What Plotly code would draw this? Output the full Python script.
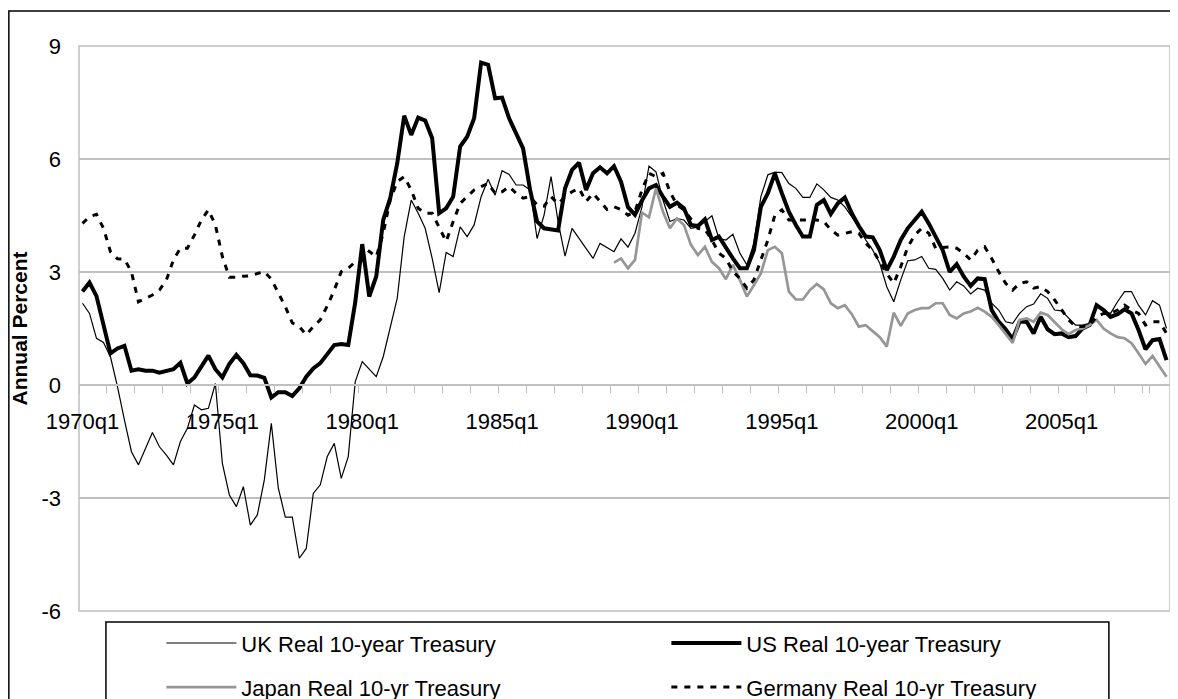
"""Real 10-year government bond yields: UK, US, Japan and Germany, 1970q1-2008q4."""

import plotly.graph_objects as go

# quarterly categories, 1970q1 .. 2008q4
quarters = [f"{year}q{q}" for year in range(1970, 2009) for q in range(1, 5)]
year_labels = ["1970q1", "1975q1", "1980q1", "1985q1", "1990q1", "1995q1", "2000q1", "2005q1"]

uk_real = [
    2.17, 1.9, 1.24, 1.13, 0.75, -0.04, -0.93, -1.77, -2.12, -1.71,
    -1.26, -1.64, -1.86, -2.12, -1.5, -1.15, -0.53, -0.66, -0.62, 0.04,
    -2.08, -2.92, -3.23, -2.7, -3.72, -3.45, -2.52, -1.02, -2.74, -3.51,
    -3.51, -4.6, -4.34, -2.88, -2.65, -1.9, -1.55, -2.48, -1.9, 0.09,
    0.62, 0.42, 0.22, 0.75, 1.5, 2.3, 3.94, 4.91, 4.56, 4.16,
    3.36, 2.45, 3.52, 3.41, 4.2, 3.94, 4.25, 5.0, 5.46, 5.04,
    5.69, 5.59, 5.31, 5.31, 5.18, 3.89, 4.51, 5.53, 4.34, 3.42,
    4.16, 3.89, 3.63, 3.36, 3.76, 3.65, 3.54, 3.88, 3.66, 4.03,
    4.73, 5.81, 5.66, 4.91, 4.34, 4.42, 4.38, 4.16, 4.19, 4.34,
    4.49, 3.89, 3.85, 4.0, 3.5, 3.19, 3.76, 5.0, 5.58, 5.65,
    5.64, 5.35, 5.22, 4.98, 4.98, 5.34, 5.18, 4.98, 4.91, 4.73,
    4.47, 4.2, 3.85, 3.58, 3.23, 2.61, 2.21, 2.79, 3.3, 3.32,
    3.41, 3.1, 3.07, 2.83, 2.52, 2.74, 2.63, 2.42, 2.57, 2.52,
    2.17, 1.99, 1.68, 1.64, 1.9, 2.08, 2.15, 2.42, 2.3, 1.99,
    1.97, 1.77, 1.59, 1.59, 1.64, 2.12, 1.95, 1.9, 2.21, 2.48,
    2.48, 2.12, 1.86, 2.24, 2.12, 1.5,
]

us_real = [
    2.48, 2.72, 2.36, 1.64, 0.84, 0.97, 1.04, 0.38, 0.42, 0.38,
    0.38, 0.33, 0.37, 0.42, 0.59, 0.04, 0.2, 0.49, 0.78, 0.42,
    0.2, 0.56, 0.8, 0.58, 0.26, 0.25, 0.19, -0.33, -0.19, -0.19,
    -0.29, -0.09, 0.22, 0.44, 0.58, 0.82, 1.06, 1.09, 1.06, 2.2,
    3.74, 2.35, 2.88, 4.38, 4.96, 5.88, 7.15, 6.64, 7.1, 7.02,
    6.55, 4.56, 4.69, 5.0, 6.33, 6.59, 7.08, 8.56, 8.5, 7.61,
    7.63, 7.08, 6.68, 6.28, 5.18, 4.34, 4.16, 4.14, 4.1, 5.22,
    5.71, 5.9, 5.18, 5.62, 5.78, 5.62, 5.81, 5.4, 4.72, 4.52,
    4.9, 5.22, 5.31, 5.0, 4.73, 4.84, 4.69, 4.25, 4.22, 4.4,
    3.85, 3.94, 3.63, 3.36, 3.1, 3.1, 3.58, 4.73, 5.09, 5.62,
    5.09, 4.6, 4.25, 3.94, 3.94, 4.78, 4.91, 4.54, 4.82, 4.98,
    4.56, 4.22, 3.94, 3.92, 3.58, 3.05, 3.41, 3.85, 4.16, 4.38,
    4.6, 4.29, 3.94, 3.58, 3.0, 3.21, 2.88, 2.63, 2.83, 2.81,
    1.99, 1.68, 1.48, 1.22, 1.68, 1.68, 1.37, 1.81, 1.48, 1.35,
    1.37, 1.27, 1.3, 1.5, 1.59, 2.12, 1.99, 1.81, 1.88, 2.01,
    1.9, 1.46, 0.95, 1.19, 1.22, 0.66,
]

germany_real = [
    4.29, 4.47, 4.53, 4.16, 3.54, 3.35, 3.34, 3.0, 2.21, 2.3,
    2.39, 2.52, 2.79, 3.32, 3.63, 3.63, 3.98, 4.38, 4.65, 4.25,
    3.41, 2.86, 2.86, 2.89, 2.9, 2.96, 3.01, 2.81, 2.43, 2.08,
    1.65, 1.55, 1.33, 1.55, 1.73, 2.1, 2.52, 3.01, 3.1, 3.27,
    3.3, 3.55, 3.4, 4.03, 4.91, 5.4, 5.53, 5.18, 4.69, 4.56,
    4.56, 4.2, 3.81, 4.34, 4.82, 5.0, 5.18, 5.27, 5.35, 5.09,
    5.13, 5.27, 5.09, 4.96, 5.0, 4.78, 4.75, 5.0, 4.81, 5.0,
    5.13, 5.22, 4.87, 5.09, 4.87, 4.66, 4.73, 4.66, 4.51, 4.6,
    5.18, 5.62, 5.53, 5.62, 5.13, 4.78, 4.65, 4.42, 4.16, 4.13,
    3.85, 3.5, 3.36, 3.01, 2.83, 2.57, 2.79, 3.32, 3.85, 4.51,
    4.65, 4.38, 4.38, 4.38, 4.4, 4.38, 4.34, 4.12, 3.98, 4.03,
    4.07, 4.03, 3.76, 3.58, 3.27, 2.96, 2.7, 3.14, 3.66, 3.98,
    4.16, 4.03, 3.63, 3.65, 3.67, 3.63, 3.5, 3.32, 3.58, 3.67,
    3.36, 3.01, 2.7, 2.52, 2.7, 2.74, 2.57, 2.61, 2.48, 2.26,
    1.99, 1.73, 1.55, 1.55, 1.59, 1.81, 1.9, 1.9, 1.99, 2.12,
    1.99, 1.9, 1.59, 1.68, 1.68, 1.37,
]

# Japan series starts in 1989q1
japan_start = "1989q1"
japan_real = [
    3.25, 3.36, 3.1, 3.32,
    4.58, 4.45, 5.22, 4.6, 4.16, 4.42, 4.25, 3.72, 3.45, 3.67,
    3.27, 3.1, 2.81, 3.19, 2.79, 2.35, 2.65, 2.96, 3.58, 3.67,
    3.5, 2.48, 2.27, 2.27, 2.52, 2.68, 2.54, 2.17, 2.04, 2.12,
    1.88, 1.55, 1.59, 1.42, 1.27, 1.02, 1.92, 1.57, 1.9, 1.99,
    2.04, 2.04, 2.17, 2.17, 1.86, 1.77, 1.9, 1.95, 2.05, 1.95,
    1.81, 1.59, 1.37, 1.12, 1.73, 1.77, 1.68, 1.92, 1.86, 1.68,
    1.48, 1.35, 1.46, 1.5, 1.59, 1.73, 1.5, 1.37, 1.27, 1.24,
    1.11, 0.84, 0.56, 0.77, 0.49, 0.22,
]
japan_quarters = quarters[quarters.index(japan_start):]

FONT = "Liberation Sans, Arial, sans-serif"
GRID = "#c0c0c0"


def main() -> None:
    fig = go.Figure()

    fig.add_trace(go.Scatter(x=quarters, y=uk_real, mode="lines", name="UK Real 10-year Treasury",
                             line=dict(color="black", width=1.2), legend="legend"))
    fig.add_trace(go.Scatter(x=quarters, y=us_real, mode="lines", name="US Real 10-year Treasury",
                             line=dict(color="black", width=4), legend="legend"))
    fig.add_trace(go.Scatter(x=japan_quarters, y=japan_real, mode="lines", name="Japan Real 10-yr Treasury",
                             line=dict(color="#969696", width=2.7), legend="legend2"))
    fig.add_trace(go.Scatter(x=quarters, y=germany_real, mode="lines", name="Germany Real 10-yr Treasury",
                             line=dict(color="black", width=3, dash="6px,7px"), legend="legend2"))

    tick_text = [q if q in year_labels else "" for q in quarters[::4]]

    legend_style = dict(
        orientation="h",
        xanchor="left",
        yanchor="middle",
        x=0.0755,
        entrywidth=420,
        itemwidth=70,
        font=dict(family=FONT, size=22, color="black"),
        bgcolor="rgba(0,0,0,0)",
        borderwidth=0,
    )

    # the page body adds an 8px offset, so margins are shifted to compensate
    fig.update_layout(
        width=1178,
        height=699,
        paper_bgcolor="white",
        plot_bgcolor="white",
        margin=dict(l=71, r=16, t=38, b=96, autoexpand=False),
        font=dict(family=FONT, size=22, color="black"),
        showlegend=True,
        legend=dict(legend_style, y=-0.057),
        legend2=dict(legend_style, y=-0.135),
        xaxis=dict(
            type="category",
            categoryorder="array",
            categoryarray=quarters,
            range=[-0.5, len(quarters) - 0.5],
            tickmode="array",
            tickvals=quarters[::4],
            ticktext=tick_text,
            tickson="boundaries",
            tickangle=0,
            ticks="outside",
            ticklen=7,
            tickcolor=GRID,
            ticklabelstandoff=17,
            showgrid=False,
            showline=True,
            linecolor=GRID,
            linewidth=1.5,
            anchor="free",
            position=0.4,
            automargin=False,
            tickfont=dict(size=22),
        ),
        yaxis=dict(
            range=[-6, 9],
            tickmode="array",
            tickvals=[-6, -3, 0, 3, 6, 9],
            ticktext=["-6", "-3", "0", "3", "6", "9"],
            showgrid=True,
            gridcolor=GRID,
            gridwidth=1.5,
            zeroline=False,
            showline=False,
            ticks="",
            ticklabelstandoff=17,
            automargin=False,
            tickfont=dict(size=22),
            title=dict(text="Annual Percent", font=dict(size=21, weight="bold"), standoff=9),
        ),
        shapes=[
            # plot-area border
            dict(type="rect", xref="x domain", yref="y domain", x0=0, x1=1, y0=0, y1=1,
                 line=dict(color=GRID, width=1.5), layer="below"),
            # outer chart border
            dict(type="rect", xref="paper", yref="paper", x0=-0.0643, x1=1.2, y0=-0.4, y1=1.062,
                 line=dict(color="black", width=1.5), layer="below"),
            # legend box
            dict(type="rect", xref="paper", yref="paper", x0=0.0247, x1=0.944, y0=-0.3, y1=-0.0195,
                 line=dict(color="black", width=1.5), fillcolor="white", layer="below"),
        ],
    )

    fig.write_html("out.html")


if __name__ == "__main__":
    main()
